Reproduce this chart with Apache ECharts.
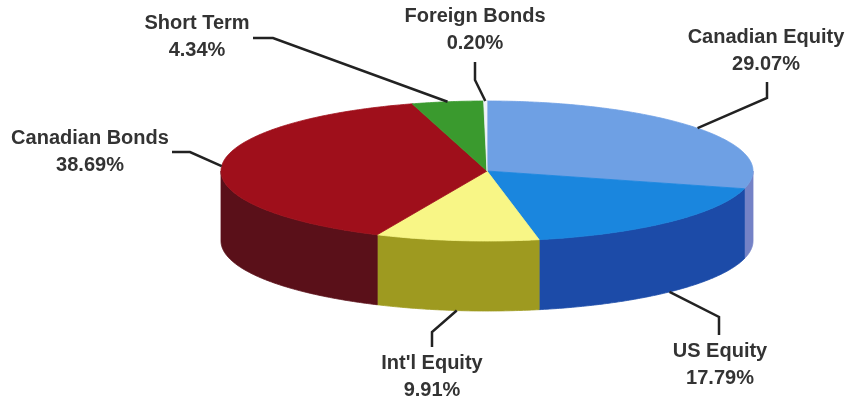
<!DOCTYPE html>
<html><head><meta charset="utf-8">
<script src="https://cdn.jsdelivr.net/npm/echarts@6/dist/echarts.min.js"></script>
<style>html,body{margin:0;padding:0;background:#fff}#c{width:846px;height:400px}</style>
</head><body><div id="c"></div>
<script>
// ---- data ----
const categories = ['Canadian Equity', 'US Equity', "Int'l Equity", 'Canadian Bonds', 'Short Term', 'Foreign Bonds'];
const values = [29.07, 17.79, 9.91, 38.69, 4.34, 0.20];
const valueLabels = ['29.07%', '17.79%', '9.91%', '38.69%', '4.34%', '0.20%'];

// ---- styles ----
const topColors = ['#6ea0e4', '#1a86de', '#f8f686', '#9f0f1b', '#3a9a2e', '#eef2f8'];
const sideColors = ['#7482c6', '#1c4ba8', '#9e9a20', '#5a1019', '#2a6e22', '#c8d0e0'];

// ---- layout ----
const G = { cx: 487, cy: 171, rx: 266, ry: 70, depth: 70 };
const labelCenters = [[766, 51], [720, 365], [432, 377], [90, 152], [197, 37], [475, 30]];
const leaderElbows = [
  [[767, 98], [767, 82]],
  [[719, 317], [719, 335]],
  [[432, 332], [432, 347]],
  [[190, 152], [172, 152]],
  [[273, 38], [253, 38]],
  [[475, 80], [475, 62]]
];

const total = values.reduce((a, b) => a + b, 0);
const starts = [];
let acc = 0;
values.forEach(v => { starts.push(acc); acc += v; });

function pt(theta, dy) {
  return [G.cx + G.rx * Math.sin(theta), G.cy - G.ry * Math.cos(theta) + (dy || 0)];
}

function renderItem(params, api) {
  const i = params.dataIndex;
  const v = api.value(0);
  const a0 = starts[i] / total * 2 * Math.PI;
  const a1 = (starts[i] + v) / total * 2 * Math.PI;
  const children = [];

  // side wall (front half only)
  const s0 = Math.max(a0, Math.PI / 2), s1 = Math.min(a1, 3 * Math.PI / 2);
  if (s1 > s0) {
    const m = Math.max(2, Math.ceil((s1 - s0) / 0.01));
    const sp = [];
    for (let k = 0; k <= m; k++) sp.push(pt(s0 + (s1 - s0) * k / m));
    for (let k = m; k >= 0; k--) sp.push(pt(s0 + (s1 - s0) * k / m, G.depth));
    children.push({
      type: 'polygon', shape: { points: sp },
      style: { fill: sideColors[i], stroke: sideColors[i], lineWidth: 0.8 },
      z2: 1
    });
  }

  // top face
  const n = Math.max(2, Math.ceil((a1 - a0) / 0.01));
  const tp = [[G.cx, G.cy]];
  for (let k = 0; k <= n; k++) tp.push(pt(a0 + (a1 - a0) * k / n));
  children.push({
    type: 'polygon', shape: { points: tp },
    style: { fill: topColors[i], stroke: topColors[i], lineWidth: 0.8 },
    z2: 10
  });

  // leader line
  const mid = (a0 + a1) / 2;
  const anchor = Math.cos(mid) < 0 ? pt(mid, G.depth) : pt(mid);
  children.push({
    type: 'polyline', shape: { points: [anchor].concat(leaderElbows[i]) },
    style: { stroke: '#222', lineWidth: 2.5, fill: null },
    z2: 20
  });

  // label
  children.push({
    type: 'text', x: labelCenters[i][0], y: labelCenters[i][1],
    style: {
      text: categories[i] + '\n' + valueLabels[i],
      align: 'center', verticalAlign: 'middle',
      font: 'bold 20px "Liberation Sans", Arial, sans-serif',
      lineHeight: 27, fill: '#333'
    },
    z2: 20
  });

  return { type: 'group', children: children };
}

const chart = echarts.init(document.getElementById('c'));
chart.setOption({
  animation: false,
  backgroundColor: '#fff',
  series: [{
    type: 'custom',
    coordinateSystem: 'none',
    renderItem: renderItem,
    data: values.map((v, i) => ({ name: categories[i], value: [v] }))
  }]
});
</script>
</body></html>
